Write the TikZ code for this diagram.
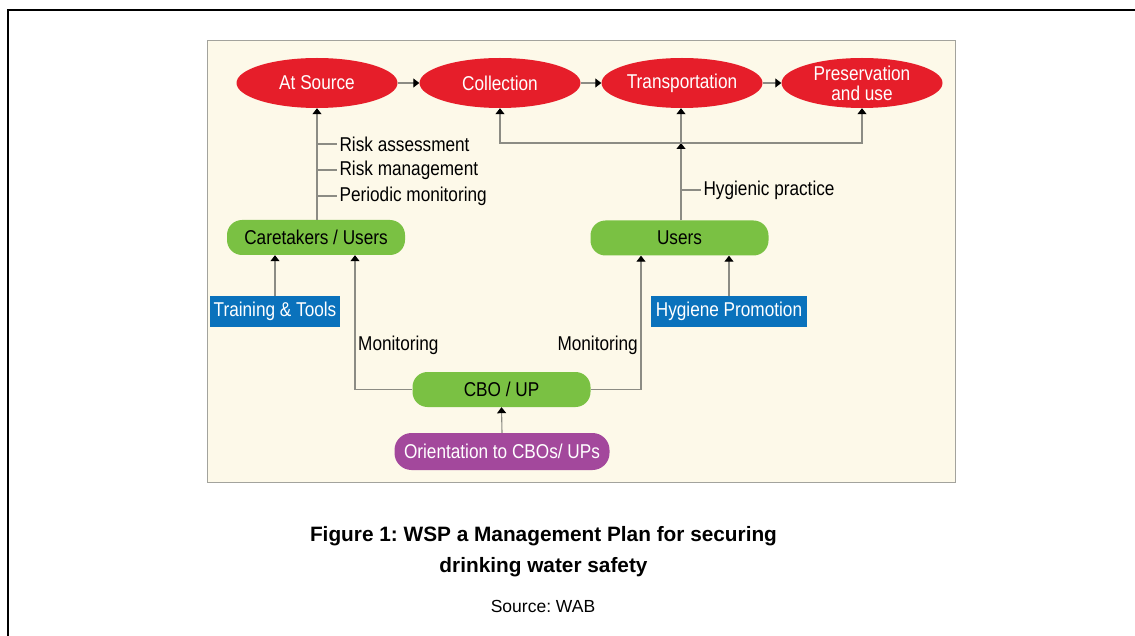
\documentclass[tikz,border=0pt]{standalone}
\usepackage{fontspec}
\setmainfont{Liberation Sans}
\newfontfamily\cond[FakeStretch=0.86]{Liberation Sans}
\usetikzlibrary{shapes.geometric,arrows.meta}
\frenchspacing
\definecolor{panel}{HTML}{FDF9E9}
\definecolor{redf}{HTML}{E61E2A}
\definecolor{greenf}{HTML}{7AC143}
\definecolor{bluef}{HTML}{0A72BC}
\definecolor{purplef}{HTML}{A3489C}
\definecolor{linec}{HTML}{8C8C84}
\tikzset{
  txt/.style={font=\cond\fontsize{20}{22}\selectfont},
  redell/.style={ellipse, fill=redf, text=white, minimum width=161pt, minimum height=50pt, inner sep=0pt, txt, align=center},
  greenbox/.style={rectangle, rounded corners=15pt, fill=greenf, text=black, minimum width=178pt, minimum height=35pt, inner sep=0pt, txt},
  bluebox/.style={rectangle, fill=bluef, text=white, minimum height=31pt, inner sep=0pt, txt},
  purplebox/.style={rectangle, rounded corners=17pt, fill=purplef, text=white, minimum width=215pt, minimum height=37pt, inner sep=0pt, txt},
  conn/.style={draw=linec, line width=1.1pt, -{Triangle[width=9pt,length=6pt,color=black]}},
  plain/.style={draw=linec, line width=1.1pt},
  lab/.style={txt, inner sep=0pt},
}
\begin{document}
\begin{tikzpicture}[x=1pt,y=-1pt]
\useasboundingbox (0,0) rectangle (1135,636);
% frame
\draw[line width=2.2pt] (8,636) -- (8,10) -- (1135,10);
% panel
\draw[draw=linec!80, line width=0.8pt, fill=panel] (207,40) rectangle (955,482);
% ellipses
\node[redell] (src) at (317,83) {At Source};
\node[redell] (col) at (500,83) {Collection};
\node[redell] (tra) at (682,83) {Transportation};
\node[redell, align=center] (pre) at (862,83) {Preservation\\[-2pt]and use};
% green boxes
\node[greenbox] (care) at (316,237.5) {Caretakers / Users};
\node[greenbox] (users) at (679.5,238) {Users};
\node[greenbox] (cbo) at (501.5,389.5) {CBO / UP};
\node[purplebox] (ori) at (502,451.5) {Orientation to CBOs/ UPs};
% blue boxes
\node[bluebox, minimum width=130pt] (train) at (275,311.5) {Training \& Tools};
\node[bluebox, minimum width=156pt] (hyg) at (729,311.5) {Hygiene Promotion};
% top chain
\draw[conn] (src) -- (col);
\draw[conn] (col) -- (tra);
\draw[conn] (tra) -- (pre);
% caretakers to source
\draw[conn] (care.north -| src.south) -- (src.south);
\coordinate (b1) at (317,144);
\coordinate (b2) at (317,170);
\coordinate (b3) at (317,196);
\draw[plain] (b1) -- ++(20,0) node[lab, anchor=west, xshift=2pt] (l1) {Risk assessment};
\draw[plain] (b2) -- ++(20,0) node[lab, anchor=west, xshift=2pt] (l2) {Risk management};
\draw[plain] (b3) -- ++(20,0) node[lab, anchor=west, xshift=2pt] (l3) {Periodic monitoring};
% bracket from users
\coordinate (hj) at (681,143);
\draw[conn] (users.north -| hj) -- (hj);
\draw[conn] (hj) -- (tra.south -| hj);
\draw[conn] (hj) -| (col.south);
\draw[conn] (hj) -| (pre.south);
\coordinate (b4) at (681,190);
\draw[plain] (b4) -- ++(20,0) node[lab, anchor=west, xshift=2pt] (l4) {Hygienic practice};
% lower arrows
\draw[conn] (train.north) -- (train.north |- care.south);
\draw[conn] (hyg.north) -- (hyg.north |- users.south);
\coordinate (m1) at (355,389.5);
\coordinate (m2) at (641,389.5);
\draw[conn] (cbo.west) -- (m1) -- (m1 |- care.south);
\draw[conn] (cbo.east) -- (m2) -- (m2 |- users.south);
\node[txt, inner sep=0pt, anchor=base west] (mon1) at (358,350) {Monitoring};
\node[txt, inner sep=0pt, anchor=base east] (mon2) at (638,350) {Monitoring};
\draw[conn] (ori.north) -- (cbo.south);
% caption
\node[font=\bfseries\fontsize{20.8}{25}\selectfont, anchor=base] (cap1) at (543.5,541) {Figure 1: WSP a Management Plan for securing};
\node[font=\bfseries\fontsize{20.8}{25}\selectfont, anchor=base] (cap2) at (543.5,572) {drinking water safety};
\node[font=\fontsize{17.5}{20}\selectfont, anchor=base] (srcl) at (543,612) {Source: WAB};
\end{tikzpicture}
\end{document}
